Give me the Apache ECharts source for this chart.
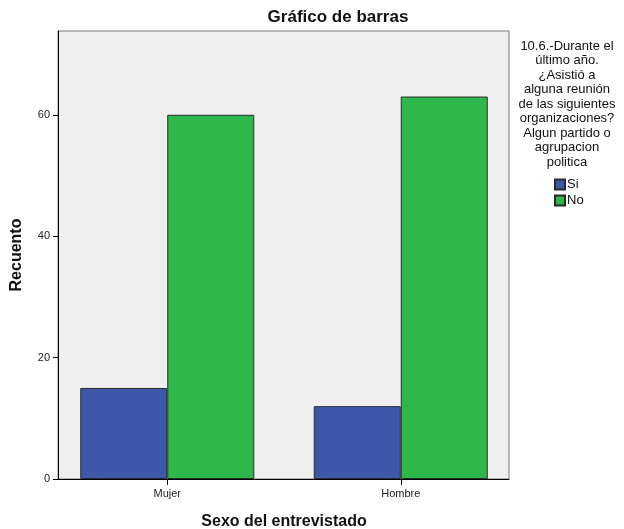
<!DOCTYPE html>
<html>
<head>
<meta charset="utf-8">
<script src="https://cdn.jsdelivr.net/npm/echarts@6/dist/echarts.min.js"></script>
<style>
html,body{margin:0;padding:0;background:#fff;}
#chart{width:624px;height:529px;}
</style>
</head>
<body>
<div id="chart"></div>
<script>
const categories = ['Mujer', 'Hombre'];
const seriesNames = ['Si', 'No'];
const siValues = [15, 12];
const noValues = [60, 63];
const yTicks = [0, 20, 40, 60];
const yMax = 73.8;
const titleText = 'Gráfico de barras';
const xAxisName = 'Sexo del entrevistado';
const yAxisName = 'Recuento';
const legendTitleLines = [
  '10.6.-Durante el',
  'último año.',
  '¿Asistió a',
  'alguna reunión',
  'de las siguientes',
  'organizaciones?',
  'Algun partido o',
  'agrupacion',
  'politica'
];

const FONT = '"Liberation Sans", Arial, sans-serif';
const chart = echarts.init(document.getElementById('chart'), null, {renderer: 'canvas'});

const option = {
  animation: false,
  backgroundColor: '#ffffff',
  title: {
    text: titleText,
    left: 338,
    top: 9,
    textAlign: 'center',
    padding: 0,
    textStyle: {fontFamily: FONT, fontSize: 17, fontWeight: 'bold', color: '#111'}
  },
  legend: {
    orient: 'vertical',
    left: 554,
    top: 178,
    padding: 0,
    itemWidth: 10,
    itemHeight: 10,
    itemGap: 3,
    icon: 'rect',
    data: seriesNames,
    textStyle: {fontFamily: FONT, fontSize: 13, color: '#111', padding: [0, 0, 0, -3]}
  },
  graphic: [{
    type: 'text',
    x: 567,
    y: 39,
    style: {
      text: legendTitleLines.join('\n'),
      fontFamily: FONT,
      fontSize: 13,
      lineHeight: 14.5,
      align: 'center',
      verticalAlign: 'top',
      fill: '#111'
    }
  }],
  grid: [
    {left: 58, top: 31, width: 451, height: 448, show: true, backgroundColor: '#efefef', borderColor: '#7a7a7a', borderWidth: 1, containLabel: false, outerBoundsMode: 'none'},
    {left: 50.5, top: 31, width: 467, height: 448, show: false, containLabel: false, outerBoundsMode: 'none'}
  ],
  xAxis: [
    {
      gridIndex: 0, type: 'value', min: 0, max: 1,
      axisLine: {show: true, onZero: false, lineStyle: {color: '#000', width: 1}},
      axisTick: {show: false}, axisLabel: {show: false}, splitLine: {show: false}
    },
    {
      gridIndex: 1, type: 'category', data: categories,
      axisLine: {show: false, onZero: false},
      axisTick: {show: true, alignWithLabel: true, length: 6, lineStyle: {color: '#000'}},
      axisLabel: {fontFamily: FONT, fontSize: 11, color: '#222', margin: 9},
      name: xAxisName, nameLocation: 'middle', nameGap: 35,
      nameTextStyle: {fontFamily: FONT, fontSize: 16, fontWeight: 'bold', color: '#111'}
    }
  ],
  yAxis: [
    {
      gridIndex: 0, type: 'value', min: 0, max: yMax,
      axisLine: {show: true, lineStyle: {color: '#000', width: 1}},
      axisTick: {show: true, length: 5, customValues: yTicks, lineStyle: {color: '#000'}},
      axisLabel: {fontFamily: FONT, fontSize: 11, color: '#222', margin: 8, customValues: yTicks},
      splitLine: {show: false},
      name: yAxisName, nameLocation: 'middle', nameGap: 33,
      nameTextStyle: {fontFamily: FONT, fontSize: 16, fontWeight: 'bold', color: '#111'}
    },
    {
      gridIndex: 1, type: 'value', min: 0, max: yMax,
      axisLine: {show: false}, axisTick: {show: false}, axisLabel: {show: false}, splitLine: {show: false}
    }
  ],
  series: [
    {
      name: seriesNames[0], type: 'bar', xAxisIndex: 1, yAxisIndex: 1,
      data: siValues, barWidth: 87, barGap: '0%',
      itemStyle: {color: '#3d57a9', borderColor: '#2a2a2a', borderWidth: 1}
    },
    {
      name: seriesNames[1], type: 'bar', xAxisIndex: 1, yAxisIndex: 1,
      data: noValues, barWidth: 87, barGap: '0%',
      itemStyle: {color: '#2eb84b', borderColor: '#2a2a2a', borderWidth: 1}
    }
  ]
};
chart.setOption(option);
</script>
</body>
</html>
